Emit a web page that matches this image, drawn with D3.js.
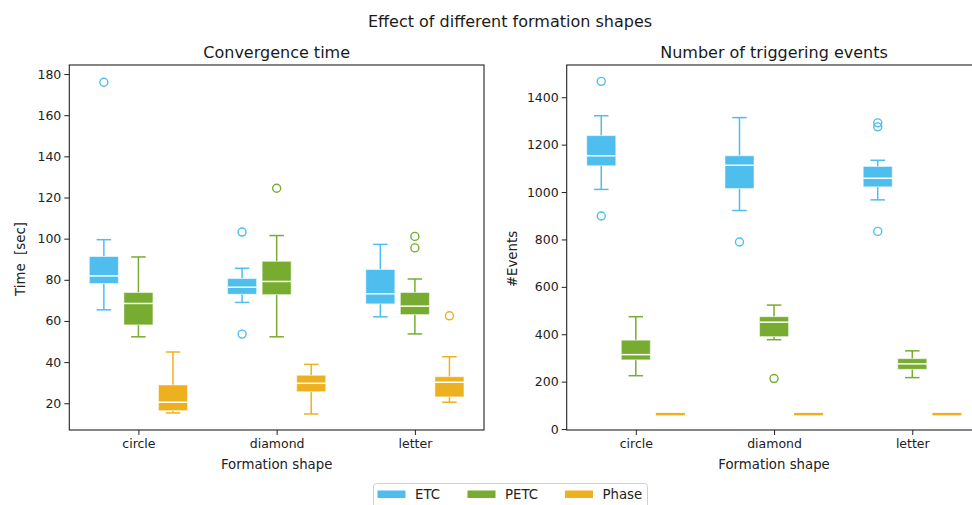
<!DOCTYPE html>
<html>
<head>
<meta charset="utf-8">
<script src="https://cdn.jsdelivr.net/npm/d3@7"></script>
<style>
  body { margin: 0; background: #fff; }
  svg { font-family: "DejaVu Sans", sans-serif; }
</style>
</head>
<body>
<div id="chart"></div>
<script>
// formation shapes on the x axis
var categories = ["circle", "diamond", "letter"];
var seriesNames = ["ETC", "PETC", "Phase"];
var seriesColors = ["#4DBEEE", "#77AC30", "#EDB120"];

// box stats per category: [low whisker, q1, median, q3, high whisker]
var timeETC = [[65.4, 78.2, 81.9, 91.3, 99.5], [69.0, 73.0, 76.4, 80.6, 85.6], [62.0, 68.3, 73.2, 85.0, 97.2]];
var timePETC = [[52.3, 58.1, 68.5, 73.8, 91.1], [52.3, 72.8, 79.2, 89.0, 101.5], [53.7, 63.1, 67.2, 73.8, 80.4]];
var timePhase = [[15.3, 16.4, 20.5, 28.9, 44.9], [14.8, 25.6, 29.7, 33.6, 38.9], [20.5, 23.1, 30.2, 32.9, 42.6]];
var timeETCOut = [[176], [103.2, 53.6], []];
var timePETCOut = [[], [124.5], [101.1, 95.5]];
var timePhaseOut = [[], [], [62.5]];

var evETC = [[1011, 1111, 1153, 1238, 1322], [922, 1015, 1113, 1153, 1314], [967, 1022, 1058, 1108, 1134]];
var evPETC = [[225, 292, 314, 375, 474], [377, 390, 451, 474, 523], [217, 252, 275, 297, 330]];
var evPhase = [[63, 63, 63, 63, 63], [63, 63, 63, 63, 63], [63, 63, 63, 63, 63]];
var evETCOut = [[1467, 899], [789], [1292, 1275, 834]];
var evPETCOut = [[], [213], []];
var evPhaseOut = [[], [], []];

var timeTicks = [20, 40, 60, 80, 100, 120, 140, 160, 180];
var evTicks = [0, 200, 400, 600, 800, 1000, 1200, 1400];

var width = 972, height = 505;
var svg = d3.select("#chart").append("svg").attr("width", width).attr("height", height);

svg.append("text").attr("x", 510).attr("y", 26.5).attr("text-anchor", "middle")
  .style("font-size", "16px").attr("fill", "#1a1a1a").text("Effect of different formation shapes");

var drawPanel = function(left, title, ylabel, ylabelX, domain, ticks, stats, outs) {
  var top = 65, bottom = 430, w = 414.7;
  var x = d3.scaleLinear().domain([0.5, 3.5]).range([left, left + w]);
  var y = d3.scaleLinear().domain(domain).range([bottom, top]);
  var g = svg.append("g");

  var yAxis = d3.axisLeft(y).tickValues(ticks).tickSize(5).tickPadding(3).tickFormat(d3.format("d"));
  g.append("g").attr("transform", "translate(" + left + ",0)").call(yAxis);
  var xAxis = d3.axisBottom(x).tickValues([1, 2, 3]).tickSize(5).tickPadding(4)
    .tickFormat(function(d) { return categories[d - 1]; });
  g.append("g").attr("transform", "translate(0," + bottom + ")").call(xAxis);
  g.selectAll(".domain").remove();
  g.selectAll(".tick line").attr("stroke", "#222").attr("stroke-width", 1);
  g.selectAll(".tick text").style("font-size", "12.5px").attr("fill", "#222").style("font-family", "DejaVu Sans");

  g.append("rect").attr("x", left).attr("y", top).attr("width", w).attr("height", bottom - top)
    .attr("fill", "none").attr("stroke", "#222").attr("stroke-width", 1.1);

  var offsets = [-0.25, 0, 0.25], bw = 0.21;
  stats.forEach(function(series, s) {
    var col = seriesColors[s];
    series.forEach(function(st, c) {
      var cx = c + 1 + offsets[s];
      var xc = x(cx), x0 = x(cx - bw / 2), x1 = x(cx + bw / 2);
      var cw = (x1 - x0) / 4;
      var bx = g.append("g");
      bx.append("line").attr("x1", xc).attr("x2", xc).attr("y1", y(st[0])).attr("y2", y(st[1]))
        .attr("stroke", col).attr("stroke-width", 1.5);
      bx.append("line").attr("x1", xc).attr("x2", xc).attr("y1", y(st[3])).attr("y2", y(st[4]))
        .attr("stroke", col).attr("stroke-width", 1.5);
      [st[0], st[4]].forEach(function(v) {
        bx.append("line").attr("x1", xc - cw).attr("x2", xc + cw).attr("y1", y(v)).attr("y2", y(v))
          .attr("stroke", col).attr("stroke-width", 1.5);
      });
      if (st[3] > st[1]) {
        bx.append("rect").attr("x", x0).attr("y", y(st[3])).attr("width", x1 - x0)
          .attr("height", y(st[1]) - y(st[3])).attr("fill", col)
          .attr("stroke", "#fff").attr("stroke-opacity", 0.5).attr("stroke-width", 1);
        bx.append("line").attr("x1", x0).attr("x2", x1).attr("y1", y(st[2])).attr("y2", y(st[2]))
          .attr("stroke", "#fff").attr("stroke-width", 1.5);
      } else {
        bx.append("line").attr("x1", x0).attr("x2", x1).attr("y1", y(st[2])).attr("y2", y(st[2]))
          .attr("stroke", col).attr("stroke-width", 2.5);
      }
      outs[s][c].forEach(function(v) {
        bx.append("circle").attr("cx", xc).attr("cy", y(v)).attr("r", 4)
          .attr("fill", "none").attr("stroke", col).attr("stroke-width", 1.4);
      });
    });
  });

  svg.append("text").attr("x", left + w / 2).attr("y", 58).attr("text-anchor", "middle")
    .style("font-size", "16px").attr("fill", "#1a1a1a").text(title);
  svg.append("text").attr("x", left + w / 2).attr("y", 468.5).attr("text-anchor", "middle")
    .style("font-size", "13.3px").attr("fill", "#222").text("Formation shape");
  svg.append("text").attr("transform", "translate(" + ylabelX + ",259) rotate(-90)")
    .attr("text-anchor", "middle").attr("dy", "0.35em").style("white-space", "pre")
    .style("font-size", "13.3px").attr("fill", "#222").text(ylabel);
};

drawPanel(69.3, "Convergence time", "Time  [sec]", 20, [7, 184.4], timeTicks,
  [timeETC, timePETC, timePhase], [timeETCOut, timePETCOut, timePhaseOut]);
drawPanel(566.7, "Number of triggering events", "#Events", 512, [-4, 1536], evTicks,
  [evETC, evPETC, evPhase], [evETCOut, evPETCOut, evPhaseOut]);

// legend
var legend = svg.append("g");
legend.append("rect").attr("x", 373.5).attr("y", 483.5).attr("width", 274).attr("height", 30)
  .attr("rx", 3).attr("fill", "#fff").attr("stroke", "#d0d0d0");
var legX = [377.5, 467.5, 565];
seriesNames.forEach(function(n, i) {
  legend.append("rect").attr("x", legX[i]).attr("y", 490.5).attr("width", 28).attr("height", 7.5)
    .attr("fill", seriesColors[i]);
  legend.append("text").attr("x", legX[i] + 37.5).attr("y", 499)
    .style("font-size", "13.3px").attr("fill", "#222").text(n);
});
</script>
</body>
</html>
